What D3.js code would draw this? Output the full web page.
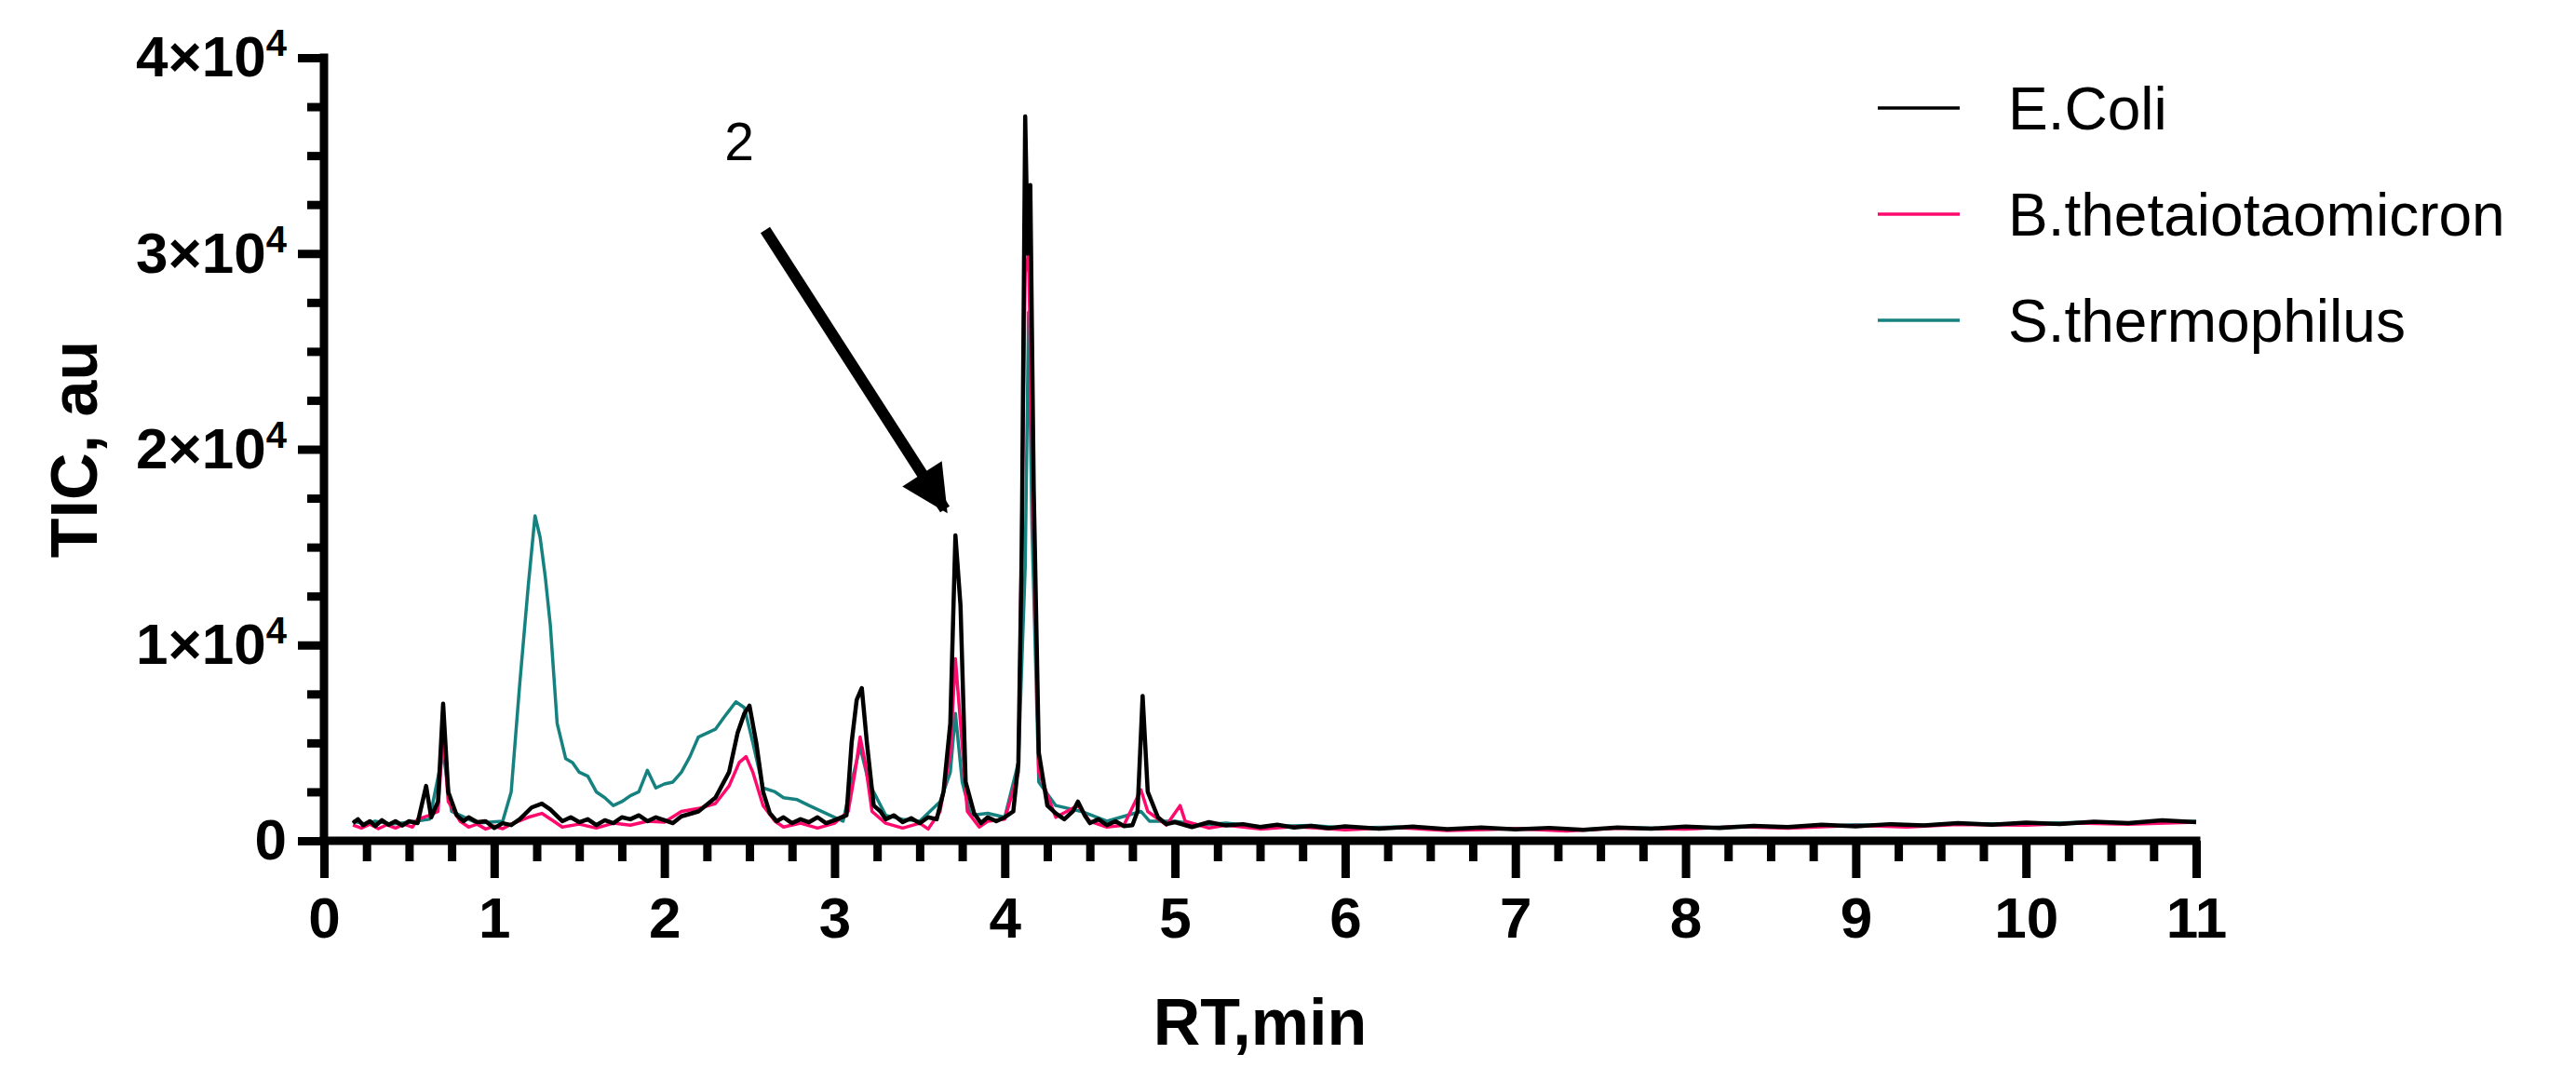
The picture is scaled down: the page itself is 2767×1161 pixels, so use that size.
<!DOCTYPE html>
<html>
<head>
<meta charset="utf-8">
<script src="https://cdn.jsdelivr.net/npm/d3@7"></script>
<style>
  body { margin: 0; background: #fff; }
  text { font-family: "Liberation Sans", Arial, sans-serif; }
</style>
</head>
<body>
<svg id="chart"></svg>
<script>
const seriesNames = ['E.Coli', 'B.thetaiotaomicron', 'S.thermophilus'];
const seriesColors = ['#000000', '#ff0a6c', '#168280'];

// [RT min, TIC]
const eColi = [
  [0.17, 900], [0.2, 1100], [0.23, 800], [0.27, 1000], [0.3, 750], [0.34, 1050], [0.38, 820], [0.42, 1000],
  [0.46, 780], [0.5, 1000], [0.55, 900], [0.6, 2800], [0.63, 1200], [0.67, 2000], [0.70, 7000], [0.73, 2500],
  [0.78, 1300], [0.82, 1000], [0.85, 1200], [0.9, 950], [0.95, 1000], [1.0, 650], [1.05, 900], [1.1, 800],
  [1.15, 1100], [1.22, 1700], [1.28, 1900], [1.33, 1600], [1.4, 1000], [1.45, 1200], [1.5, 950], [1.55, 1100],
  [1.6, 800], [1.65, 1050], [1.7, 900], [1.75, 1200], [1.8, 1100], [1.85, 1300], [1.9, 1000], [1.95, 1200],
  [2.0, 1050], [2.05, 900], [2.1, 1250], [2.2, 1500], [2.3, 2200], [2.38, 3500], [2.43, 5500], [2.47, 6500],
  [2.5, 6900], [2.54, 5000], [2.58, 2500], [2.62, 1400], [2.66, 1000], [2.7, 1200], [2.75, 900], [2.8, 1100],
  [2.85, 950], [2.9, 1200], [2.95, 900], [3.0, 1050], [3.07, 1300], [3.1, 5000], [3.13, 7200], [3.16, 7800],
  [3.19, 5000], [3.23, 1800], [3.27, 1500], [3.3, 1100], [3.35, 1300], [3.4, 950], [3.45, 1150], [3.5, 900],
  [3.55, 1200], [3.6, 1100], [3.64, 2500], [3.68, 6000], [3.71, 15600], [3.74, 12000], [3.77, 3000],
  [3.82, 1400], [3.86, 900], [3.9, 1200], [3.95, 1000], [4.0, 1200], [4.05, 1500], [4.08, 4000], [4.1, 15000],
  [4.12, 37000], [4.135, 30000], [4.15, 33500], [4.17, 18000], [4.2, 4500], [4.25, 1800], [4.3, 1400],
  [4.35, 1100], [4.4, 1500], [4.43, 2000], [4.47, 1300], [4.5, 900], [4.55, 1100], [4.6, 800], [4.65, 1000],
  [4.7, 750], [4.75, 800], [4.78, 1500], [4.81, 7400], [4.84, 2500], [4.9, 1200], [4.95, 850], [5.0, 950],
  [5.1, 700], [5.2, 950], [5.3, 780], [5.4, 850], [5.5, 700], [5.6, 820], [5.7, 680], [5.8, 760], [5.9, 640],
  [6.0, 740], [6.2, 620], [6.4, 720], [6.6, 600], [6.8, 680], [7.0, 580], [7.2, 660], [7.4, 560], [7.6, 680],
  [7.8, 620], [8.0, 720], [8.2, 650], [8.4, 760], [8.6, 700], [8.8, 820], [9.0, 740], [9.2, 850], [9.4, 780],
  [9.6, 900], [9.8, 820], [10.0, 930], [10.2, 860], [10.4, 980], [10.6, 900], [10.8, 1050], [11.0, 950]
];
const bTheta = [
  [0.17, 800], [0.22, 650], [0.27, 850], [0.32, 620], [0.37, 820], [0.42, 650], [0.47, 850], [0.52, 700],
  [0.55, 1100], [0.62, 1300], [0.67, 1500], [0.70, 5500], [0.73, 2000], [0.8, 1000], [0.85, 700], [0.9, 850],
  [0.95, 600], [1.0, 750], [1.05, 620], [1.1, 850], [1.2, 1200], [1.28, 1400], [1.35, 1000], [1.4, 700],
  [1.5, 850], [1.6, 650], [1.7, 900], [1.8, 800], [1.9, 1000], [2.0, 950], [2.1, 1500], [2.2, 1650],
  [2.3, 1900], [2.38, 2800], [2.44, 4000], [2.48, 4300], [2.52, 3500], [2.58, 1800], [2.65, 1000],
  [2.7, 700], [2.8, 900], [2.9, 650], [3.0, 900], [3.08, 1500], [3.12, 3500], [3.15, 5300], [3.18, 4000],
  [3.22, 1500], [3.3, 900], [3.4, 650], [3.5, 900], [3.55, 600], [3.62, 1500], [3.68, 4500], [3.71, 9300],
  [3.74, 6000], [3.78, 1500], [3.85, 700], [3.9, 1000], [4.0, 1100], [4.08, 3500], [4.12, 29000],
  [4.14, 30000], [4.16, 20000], [4.2, 3500], [4.3, 1200], [4.43, 1800], [4.5, 1000], [4.6, 700], [4.7, 800],
  [4.8, 2600], [4.84, 1500], [4.95, 800], [5.03, 1800], [5.06, 1000], [5.2, 650], [5.3, 800], [5.5, 600],
  [5.7, 720], [6.0, 560], [6.3, 680], [6.6, 520], [7.0, 620], [7.3, 500], [7.6, 640], [8.0, 600], [8.3, 720],
  [8.6, 640], [9.0, 780], [9.3, 700], [9.6, 830], [10.0, 800], [10.3, 900], [10.6, 840], [11.0, 950]
];
const sTherm = [
  [0.17, 1000], [0.25, 850], [0.3, 1000], [0.4, 850], [0.5, 950], [0.62, 1100], [0.7, 4500], [0.75, 1500],
  [0.85, 1100], [0.9, 900], [1.05, 1000], [1.1, 2500], [1.15, 8000], [1.2, 13000], [1.24, 16600],
  [1.27, 15500], [1.3, 13500], [1.33, 11000], [1.37, 6000], [1.42, 4200], [1.46, 4000], [1.5, 3500],
  [1.55, 3300], [1.6, 2500], [1.65, 2200], [1.7, 1800], [1.75, 2000], [1.8, 2300], [1.85, 2500], [1.9, 3600],
  [1.95, 2700], [2.0, 2900], [2.05, 3000], [2.1, 3500], [2.15, 4300], [2.2, 5300], [2.25, 5500],
  [2.3, 5700], [2.35, 6300], [2.42, 7100], [2.47, 6800], [2.52, 5000], [2.58, 2700], [2.65, 2500],
  [2.7, 2200], [2.78, 2100], [2.85, 1800], [2.95, 1400], [3.05, 1000], [3.1, 3000], [3.15, 4800],
  [3.2, 3000], [3.3, 1300], [3.4, 1100], [3.5, 1000], [3.62, 2000], [3.68, 3500], [3.71, 6500], [3.75, 3000],
  [3.8, 1300], [3.9, 1400], [4.0, 1200], [4.08, 4000], [4.12, 14000], [4.14, 27000], [4.16, 16000],
  [4.2, 3000], [4.3, 1800], [4.45, 1500], [4.6, 1000], [4.8, 1500], [4.85, 1000], [5.0, 1000], [5.15, 800],
  [5.3, 900], [5.5, 720], [5.8, 780], [6.0, 650], [6.3, 700], [6.6, 560], [7.0, 620], [7.3, 540], [7.6, 660],
  [8.0, 620], [8.3, 740], [8.6, 680], [9.0, 820], [9.3, 760], [9.6, 880], [10.0, 860], [10.3, 940],
  [10.6, 880], [11.0, 1000]
];
const xTicks = [0, 1, 2, 3, 4, 5, 6, 7, 8, 9, 10, 11];
const yTicks = [0, 10000, 20000, 30000, 40000];
const yTickLabels = ['0', '1×10', '2×10', '3×10', '4×10'];

const width = 2767, height = 1161;
const margin = { top: 62, right: 408, bottom: 258, left: 348 };
const svg = d3.select('#chart').attr('width', width).attr('height', height);

const x = d3.scaleLinear().domain([0, 11]).range([margin.left, width - margin.right]);
const y = d3.scaleLinear().domain([0, 40000]).range([height - margin.bottom, margin.top]);

const line = d3.line().x((d) => x(d[0])).y((d) => y(d[1]));
const allSeries = [eColi, bTheta, sTherm];
[2, 1, 0].forEach((i) => {
  svg.append('path').datum(allSeries[i])
    .attr('fill', 'none').attr('stroke', seriesColors[i])
    .attr('stroke-width', i === 0 ? 4.5 : 3.5).attr('stroke-linejoin', 'round')
    .attr('d', line);
});

// x axis
const xMinor = d3.range(0, 11.01, 0.25).filter((t) => Math.abs(t - Math.round(t)) > 0.01);
const gx = svg.append('g').attr('transform', `translate(0,${y(0)})`);
gx.append('g').call(d3.axisBottom(x).tickValues(xMinor).tickSize(22).tickFormat('').tickSizeOuter(0))
  .call((g) => g.select('.domain').remove());
gx.append('g').call(d3.axisBottom(x).tickValues(xTicks).tickSize(40).tickPadding(20).tickSizeOuter(0));
gx.selectAll('line').attr('stroke', '#000').attr('stroke-width', 9);
gx.selectAll('.domain').attr('stroke', '#000').attr('stroke-width', 9)
  .attr('d', `M${x(0) - 4.5},0H${x(11) + 4.5}`);
gx.selectAll('text').attr('font-size', 62).attr('font-weight', 'bold').attr('fill', '#000');

// y axis
const yMinor = d3.range(2500, 40000, 2500).filter((v) => v % 10000 !== 0);
const gy = svg.append('g').attr('transform', `translate(${x(0)},0)`);
gy.append('g').call(d3.axisLeft(y).tickValues(yMinor).tickSize(18).tickFormat('').tickSizeOuter(0))
  .call((g) => g.select('.domain').remove());
const gyMajor = gy.append('g').call(d3.axisLeft(y).tickValues(yTicks).tickSize(28).tickPadding(12)
  .tickSizeOuter(0).tickFormat((d, i) => yTickLabels[i]));
gy.selectAll('line').attr('stroke', '#000').attr('stroke-width', 9);
gy.selectAll('.domain').attr('stroke', '#000').attr('stroke-width', 9)
  .attr('d', `M0,${y(40000) - 4.5}V${y(0) + 4.5}`);
gyMajor.selectAll('text').attr('font-size', 62).attr('font-weight', 'bold').attr('fill', '#000')
  .each(function (d) {
    if (d === 0) return;
    d3.select(this).append('tspan').attr('dy', '-0.55em').attr('font-size', 40).text('4');
  });

// axis titles
svg.append('text').attr('x', (x(0) + x(11)) / 2).attr('y', 1122).attr('text-anchor', 'middle')
  .attr('font-size', 70).attr('font-weight', 'bold').text('RT,min');
svg.append('text').attr('transform', `translate(104,${(y(0) + y(40000)) / 2}) rotate(-90)`)
  .attr('text-anchor', 'middle').attr('font-size', 70).attr('font-weight', 'bold').text('TIC, au');

// annotation arrow
svg.append('defs').append('marker').attr('id', 'head').attr('viewBox', '0 0 10 10')
  .attr('refX', 9).attr('refY', 5).attr('markerWidth', 4.4).attr('markerHeight', 4.2)
  .attr('markerUnits', 'strokeWidth').attr('orient', 'auto')
  .append('path').attr('d', 'M0,0L10,5L0,10Z').attr('fill', '#000');
svg.append('line').attr('x1', 822).attr('y1', 247).attr('x2', 1015).attr('y2', 547)
  .attr('stroke', '#000').attr('stroke-width', 12).attr('marker-end', 'url(#head)');
svg.append('text').attr('x', 794).attr('y', 172).attr('text-anchor', 'middle')
  .attr('font-size', 57).text('2');

// legend
const legend = svg.append('g');
seriesNames.forEach((name, i) => {
  const ly = 116 + i * 114;
  legend.append('line').attr('x1', 2017).attr('x2', 2105).attr('y1', ly).attr('y2', ly)
    .attr('stroke', seriesColors[i]).attr('stroke-width', 3.5);
  legend.append('text').attr('x', 2157).attr('y', ly + 23).attr('font-size', 64).text(name);
});
</script>
</body>
</html>
